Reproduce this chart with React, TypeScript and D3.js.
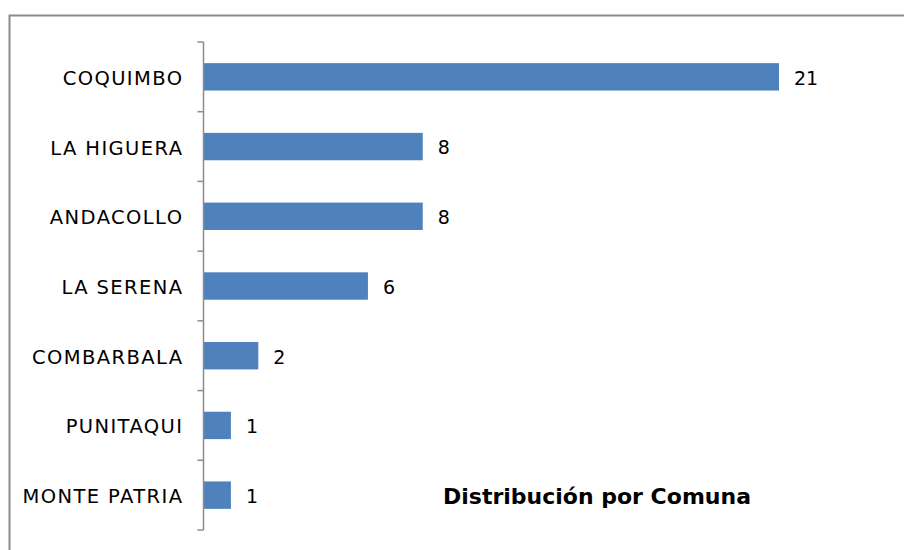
import React from "react";
import * as d3 from "d3";

const categories = ["COQUIMBO", "LA HIGUERA", "ANDACOLLO", "LA SERENA", "COMBARBALA", "PUNITAQUI", "MONTE PATRIA"];
const values = [21, 8, 8, 6, 2, 1, 1];
const title = "Distribución por Comuna";

export default function App() {
  const W = 904, H = 550;
  const axisX = 203.5;
  const y = d3.scaleBand<string>().domain(categories).range([42, 530]).paddingInner(0).paddingOuter(0);
  const x = d3.scaleLinear().domain([0, 21]).range([axisX, 779]);
  const barH = 27.4;
  const ticks = d3.range(categories.length + 1).map((i) => 42 + i * y.step());
  const font = "'DejaVu Sans', sans-serif";
  const ls = 1.4;
  return (
    <svg width={W} height={H} style={{ position: "absolute", left: 0, top: 0 }}>
      <rect x={0} y={0} width={W} height={H} fill="#fff" />
      <path d={`M9.5,${H} V15.5 H${W}`} fill="none" stroke="#8c8c8c" strokeWidth={2} />
      {categories.map((c, i) => {
        const cy = (y(c) as number) + y.bandwidth() / 2;
        return (
          <g key={c}>
            <rect x={axisX} y={cy - barH / 2} width={x(values[i]) - axisX} height={barH} fill="#4f81bd" />
            <text x={x(values[i]) + 15} y={cy + 1} dy="0.36em" fontFamily={font} fontSize={19} fill="#000">
              {values[i]}
            </text>
            <text x={182 + ls} y={cy + 1} dy="0.36em" textAnchor="end" fontFamily={font} fontSize={19.5} letterSpacing={ls} fill="#000">
              {c}
            </text>
          </g>
        );
      })}
      <line x1={axisX} x2={axisX} y1={42} y2={530} stroke="#8c8c8c" strokeWidth={1.5} />
      {ticks.map((t, i) => (
        <line key={i} x1={axisX - 6} x2={axisX} y1={t} y2={t} stroke="#8c8c8c" strokeWidth={1.5} />
      ))}
      <text x={597} y={496.5} dy="0.36em" textAnchor="middle" fontFamily={font} fontSize={22} fontWeight="bold" fill="#000">
        {title}
      </text>
    </svg>
  );
}
